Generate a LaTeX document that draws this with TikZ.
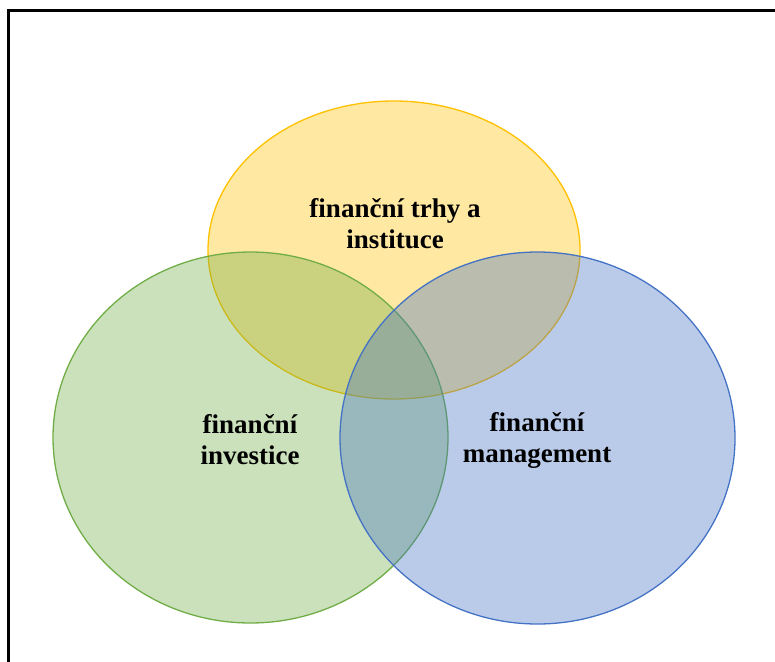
\documentclass[tikz,border=0pt]{standalone}
\usepackage{fontspec}
\setmainfont{Liberation Serif}
\definecolor{ygold}{HTML}{FFC000}
\definecolor{ggreen}{HTML}{70AD47}
\definecolor{bblue}{HTML}{4472C4}
\tikzset{
  circ/.style={draw=#1, fill=#1, fill opacity=0.37, line width=1.3pt},
  lbl/.style={font=\fontsize{27}{31}\selectfont\bfseries, align=center, text=black}
}
\begin{document}
\begin{tikzpicture}[x=1pt,y=-1pt]
  \useasboundingbox (0,0) rectangle (775,661);
  \begin{scope}
    \clip (0,0) rectangle (775,661);
    \draw[line width=3pt] (8,800) -- (8,11) -- (900,11);
  \end{scope}

  % the three sets
  \draw[circ=ygold]  (394,250)   ellipse [x radius=186,   y radius=149];
  \draw[circ=ggreen] (250.5,437.5) ellipse [x radius=197.5, y radius=185.5];
  \draw[circ=bblue]  (537.5,438) ellipse [x radius=197.5, y radius=186];

  % labels
  \node[lbl] (trhy)  at (395,224) {finanční trhy a\\instituce};
  \node[lbl] (inv)   at (250,440) {finanční\\investice};
  \node[lbl] (mgmt)  at (537,440) {finanční\\management};
\end{tikzpicture}
\end{document}
